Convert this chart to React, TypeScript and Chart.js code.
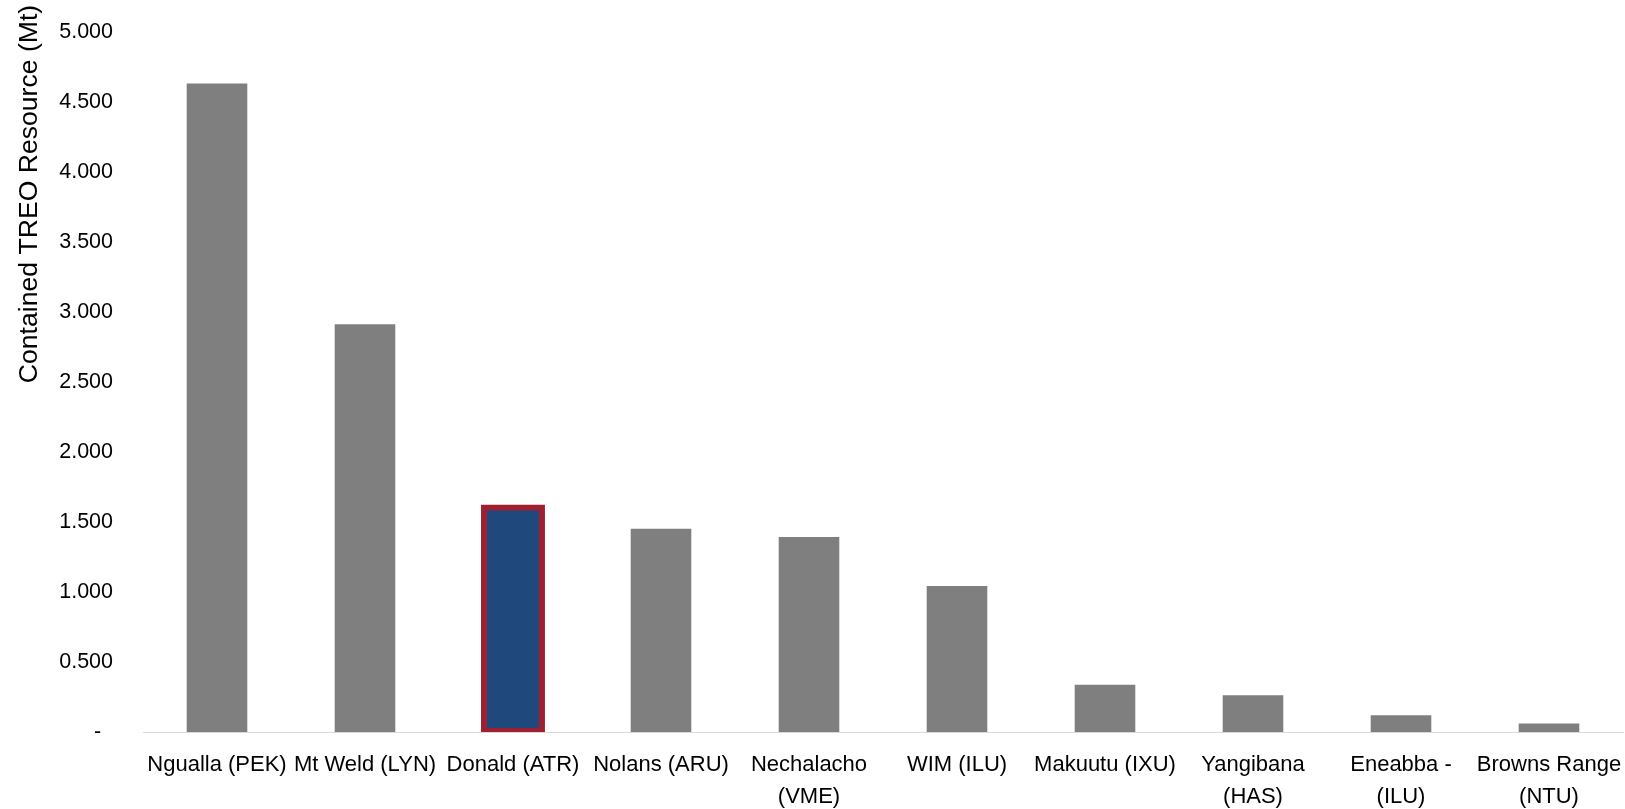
import React, { useEffect, useRef } from "react";
import { Chart, registerables } from "chart.js";

Chart.register(...registerables);

const categories: (string | string[])[] = [
  "Ngualla (PEK)",
  "Mt Weld (LYN)",
  "Donald (ATR)",
  "Nolans (ARU)",
  ["Nechalacho", "(VME)"],
  "WIM (ILU)",
  "Makuutu (IXU)",
  ["Yangibana", "(HAS)"],
  ["Eneabba -", "(ILU)"],
  ["Browns Range", "(NTU)"],
];

const resourceMt: number[] = [4.63, 2.91, 1.61, 1.45, 1.39, 1.04, 0.335, 0.26, 0.117, 0.059];

const highlightIndex = 2;
const yTickMax = 5;
const yTickStep = 0.5;
const yTitle = "Contained TREO Resource (Mt)";

const GRAY = "#7f7f7f";
const BLUE = "#1f497d";
const RED = "#9e1f2f";

const FONT = "'Liberation Sans', Arial, sans-serif";

const titlePlugin = {
  id: "yTitlePlugin",
  afterDraw(chart: any) {
    const ctx = chart.ctx as CanvasRenderingContext2D;
    ctx.save();
    ctx.translate(37, 194);
    ctx.rotate(-Math.PI / 2);
    ctx.font = `26.6px ${FONT}`;
    ctx.fillStyle = "#000";
    ctx.textAlign = "center";
    ctx.textBaseline = "alphabetic";
    ctx.fillText(yTitle, 0, 0);
    ctx.restore();
  },
};

export default function App() {
  const ref = useRef<HTMLCanvasElement | null>(null);

  useEffect(() => {
    if (!ref.current) return;
    const chart = new Chart(ref.current, {
      type: "bar",
      data: {
        labels: categories,
        datasets: [
          {
            data: resourceMt,
            backgroundColor: resourceMt.map((_, i) => (i === highlightIndex ? BLUE : GRAY)),
            borderColor: resourceMt.map((_, i) => (i === highlightIndex ? RED : GRAY)),
            borderWidth: resourceMt.map((_, i) => (i === highlightIndex ? 6 : 0)),
            borderSkipped: false,
            inflateAmount: (c: any) => (c.dataIndex === highlightIndex ? 2 : 0.33),
            barPercentage: 0.405,
            categoryPercentage: 1,
          } as any,
        ],
      },
      plugins: [titlePlugin],
      options: {
        animation: false,
        responsive: true,
        maintainAspectRatio: false,
        layout: { padding: { top: 32, right: 2, bottom: 0, left: 0 } },
        plugins: {
          legend: { display: false },
          tooltip: { enabled: false },
          title: { display: false },
        },
        scales: {
          x: {
            grid: { display: false, drawTicks: false },
            border: { display: true, color: "#d9d9d9", width: 1 },
            ticks: {
              color: "#000",
              font: { family: FONT, size: 22, lineHeight: 1.455 },
              padding: 17,
              autoSkip: false,
              maxRotation: 0,
              minRotation: 0,
            },
            afterFit: (s: any) => {
              s.height = 77;
              s.paddingLeft = 0;
              s.paddingRight = 0;
            },
          },
          y: {
            min: 0,
            max: yTickMax,
            grid: { display: false, drawTicks: false },
            border: { display: false },
            ticks: {
              stepSize: yTickStep,
              color: "#000",
              font: { family: FONT, size: 21.5 },
              padding: 30,
              callback: (v: any) => (Number(v) === 0 ? "-  " : Number(v).toFixed(3)),
            },
            afterFit: (s: any) => {
              s.width = 143;
              s.paddingTop = 0;
              s.paddingBottom = 0;
            },
          },
        },
      },
    });
    return () => chart.destroy();
  }, []);

  return (
    <div style={{ position: "fixed", left: 0, top: 0, width: 1625, height: 809, background: "#fff" }}>
      <canvas ref={ref} />
    </div>
  );
}
